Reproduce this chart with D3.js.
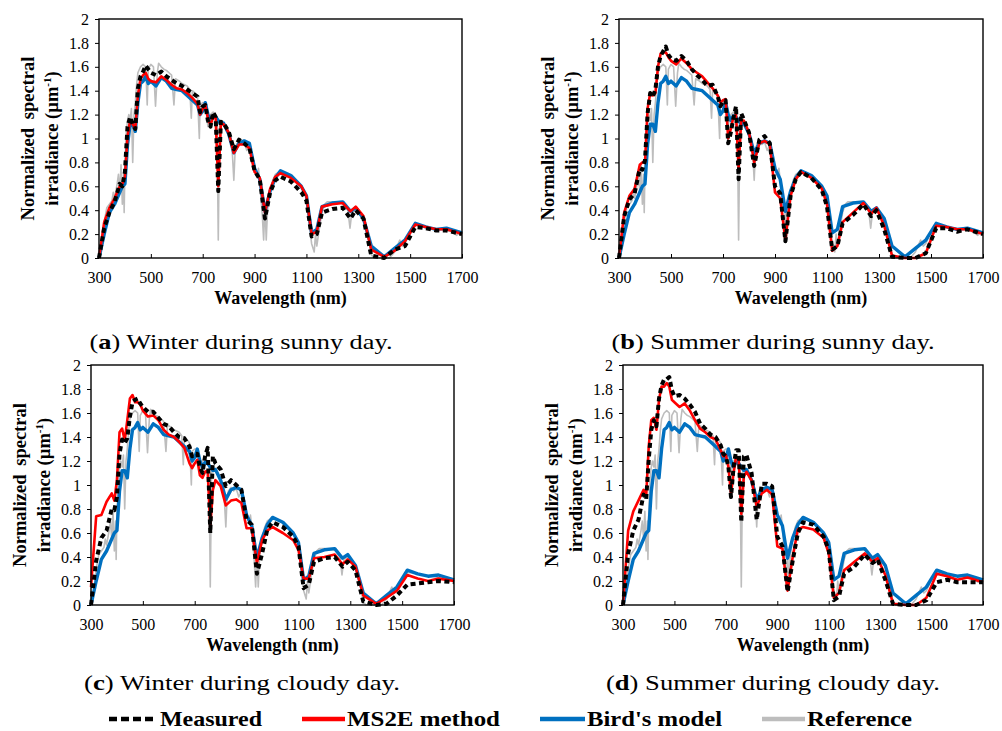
<!DOCTYPE html>
<html><head><meta charset="utf-8">
<script src="https://cdn.jsdelivr.net/npm/d3@7"></script>
<style>
body{margin:0;background:#fff}
svg{display:block}
text{font-family:"Liberation Serif","Times New Roman",serif;fill:#000}
</style>
</head><body>
<svg id="chart" width="1002" height="731"></svg>
<script>
// ---------- DATA ----------
const wavelengths = [300,320,340,360,380,390,400,410,420,430,
 440,450,460,470,480,490,500,520,540,560,
 580,600,620,640,660,680,690,700,710,720,
 730,740,750,760,770,780,800,820,840,860,
 880,900,920,940,960,980,1000,1040,1080,1100,
 1120,1140,1160,1200,1240,1270,1290,1320,1350,1400,
 1440,1480,1520,1560,1600,1640,1700];

const birdModel = [0,0.2,0.38,0.45,0.55,0.6,0.62,0.95,1.12,1.12,
 1.06,1.3,1.46,1.48,1.52,1.46,1.48,1.44,1.51,1.48,
 1.42,1.41,1.4,1.36,1.32,1.28,1.2,1.23,1.3,1.2,
 1.15,1.19,1.18,1.15,1.12,1.13,1.04,0.88,0.96,0.98,
 0.96,0.75,0.66,0.39,0.56,0.67,0.73,0.69,0.6,0.52,
 0.21,0.24,0.43,0.46,0.47,0.39,0.42,0.33,0.1,0.01,
 0.08,0.15,0.29,0.26,0.24,0.25,0.21];

const measuredA = [0,0.25,0.38,0.47,0.62,0.6,0.72,1.1,1.18,1.12,
 1.08,1.42,1.52,1.56,1.61,1.58,1.55,1.53,1.56,1.52,
 1.49,1.46,1.44,1.41,1.38,1.35,1.22,1.27,1.28,1.15,
 1.1,1.22,1.18,0.56,1.14,1.13,1.06,0.91,0.99,0.96,
 0.92,0.73,0.66,0.33,0.55,0.65,0.68,0.64,0.55,0.48,
 0.18,0.2,0.38,0.41,0.42,0.33,0.4,0.33,0.02,0,
 0.07,0.1,0.26,0.25,0.23,0.23,0.2];
const ms2eA = [0,0.3,0.42,0.5,0.6,0.62,0.68,1.02,1.15,1.12,
 1.08,1.36,1.5,1.53,1.55,1.5,1.48,1.47,1.52,1.49,
 1.45,1.42,1.41,1.38,1.34,1.29,1.2,1.25,1.28,1.17,
 1.11,1.18,1.17,0.6,1.12,1.12,1.05,0.88,0.95,0.95,
 0.92,0.72,0.67,0.38,0.58,0.68,0.71,0.67,0.6,0.52,
 0.2,0.22,0.43,0.45,0.46,0.39,0.43,0.35,0.07,0.01,
 0.06,0.14,0.28,0.26,0.24,0.24,0.2];

const measuredB = [0,0.35,0.49,0.54,0.75,0.74,0.82,1.21,1.38,1.35,
 1.41,1.6,1.69,1.73,1.77,1.7,1.67,1.65,1.69,1.65,
 1.58,1.53,1.49,1.44,1.45,1.35,1.27,1.31,1.32,0.96,
 1.05,1.17,1.27,0.66,1.21,1.16,1.05,0.77,0.99,1.02,
 0.96,0.6,0.54,0.14,0.52,0.66,0.72,0.67,0.57,0.43,
 0.07,0.1,0.29,0.36,0.45,0.35,0.4,0.24,0.01,0,
 0,0.04,0.25,0.25,0.22,0.24,0.2];
const ms2eB = [0,0.38,0.52,0.58,0.78,0.8,0.8,1.25,1.38,1.36,
 1.38,1.6,1.71,1.72,1.72,1.68,1.65,1.62,1.67,1.63,
 1.58,1.55,1.52,1.47,1.42,1.36,1.3,1.32,1.33,1.0,
 1.08,1.18,1.2,0.75,1.15,1.15,1.05,0.8,0.96,0.98,
 0.95,0.55,0.5,0.15,0.52,0.66,0.72,0.67,0.58,0.45,
 0.06,0.1,0.3,0.38,0.46,0.37,0.42,0.27,0.02,0,
 0,0.04,0.27,0.26,0.24,0.24,0.2];

const measuredC = [0,0.37,0.56,0.62,0.8,0.79,0.9,1.26,1.38,1.35,
 1.39,1.57,1.69,1.71,1.72,1.68,1.65,1.61,1.61,1.56,
 1.51,1.49,1.44,1.4,1.39,1.32,1.24,1.26,1.26,1.15,
 1.1,1.24,1.31,0.6,1.24,1.18,1.13,0.99,1.04,1.0,
 0.96,0.71,0.67,0.26,0.43,0.63,0.69,0.65,0.57,0.49,
 0.14,0.17,0.36,0.39,0.4,0.32,0.36,0.29,0.03,0,
 0.01,0.08,0.17,0.18,0.19,0.2,0.19];
const ms2eC = [0.15,0.74,0.75,0.86,0.93,0.87,1.04,1.44,1.47,1.37,
 1.54,1.72,1.75,1.69,1.69,1.67,1.62,1.57,1.58,1.54,
 1.46,1.42,1.4,1.36,1.31,1.18,1.14,1.18,1.21,1.08,
 1.06,1.11,1.12,0.65,0.96,1.04,0.99,0.83,0.87,0.88,
 0.85,0.64,0.64,0.35,0.54,0.62,0.65,0.6,0.54,0.46,
 0.22,0.22,0.39,0.4,0.42,0.34,0.38,0.32,0.08,0.01,
 0.06,0.12,0.25,0.22,0.2,0.22,0.2];

const measuredD = [0,0.43,0.62,0.71,0.92,0.88,1.21,1.46,1.54,1.49,
 1.72,1.83,1.88,1.88,1.9,1.79,1.74,1.75,1.72,1.67,
 1.61,1.51,1.47,1.42,1.4,1.33,1.26,1.24,1.15,0.9,
 1.15,1.29,1.29,0.69,1.24,1.25,1.1,0.71,1.01,1.01,
 0.99,0.57,0.49,0.11,0.37,0.6,0.69,0.67,0.57,0.46,
 0.04,0.07,0.26,0.32,0.42,0.35,0.38,0.21,0.01,0,
 0,0.04,0.19,0.21,0.19,0.19,0.19];
const ms2eD = [0,0.62,0.78,0.87,0.96,0.9,1.32,1.54,1.56,1.46,
 1.71,1.82,1.82,1.85,1.82,1.71,1.69,1.65,1.68,1.62,
 1.54,1.47,1.44,1.4,1.38,1.29,1.24,1.25,1.15,0.93,
 1.1,1.24,1.21,0.76,1.07,1.11,1.04,0.82,0.93,0.96,
 0.92,0.49,0.47,0.12,0.4,0.63,0.65,0.63,0.56,0.43,
 0.06,0.1,0.29,0.36,0.43,0.36,0.39,0.25,0.01,0,
 0,0.06,0.26,0.24,0.21,0.23,0.19];

const refWavelengths = [300,310,320,330,340,350,355,360,370,375,
 380,385,390,395,397,400,405,410,415,420,
 425,430,435,440,445,450,460,470,480,486,
 490,500,510,518,525,530,540,550,560,570,
 580,589,595,610,620,640,650,656,660,670,
 680,687,690,700,710,720,725,730,740,750,
 755,760,765,770,780,790,800,810,815,820,
 825,830,840,850,860,870,880,890,900,910,
 915,920,930,935,940,945,950,960,970,980,
 1000,1040,1080,1100,1110,1120,1130,1135,1140,1150,
 1160,1170,1180,1200,1220,1240,1260,1268,1275,1290,
 1300,1320,1340,1350,1360,1420,1440,1460,1470,1480,
 1500,1520,1540,1580,1620,1660,1680,1690,1700];
const referenceValues = [0,0.1,0.3,0.42,0.45,0.48,0.55,0.5,0.62,0.7,
 0.55,0.78,0.45,0.7,0.38,0.75,1.05,1.15,1.2,1.15,
 1.25,0.8,1.2,1.3,1.45,1.55,1.6,1.62,1.6,1.28,
 1.58,1.62,1.6,1.27,1.55,1.63,1.6,1.58,1.57,1.55,
 1.53,1.28,1.5,1.48,1.46,1.44,1.41,1.17,1.4,1.38,
 1.35,1.0,1.28,1.3,1.3,1.1,1.18,1.2,1.22,1.2,
 1.15,0.15,1.1,1.15,1.13,1.1,1.05,1.0,0.85,0.65,
 0.9,0.95,0.98,0.95,0.97,0.9,0.95,0.82,0.75,0.68,
 0.75,0.65,0.35,0.15,0.45,0.15,0.4,0.55,0.65,0.7,
 0.73,0.68,0.6,0.5,0.3,0.12,0.05,0.2,0.1,0.25,
 0.38,0.45,0.47,0.47,0.46,0.46,0.4,0.25,0.38,0.4,
 0.38,0.32,0.15,0.03,0,0,0.05,0.15,0.1,0.12,
 0.22,0.27,0.27,0.25,0.24,0.22,0.19,0.22,0.2];

const xTicks = [300,500,700,900,1100,1300,1500,1700];
const yTicks = [0,0.2,0.4,0.6,0.8,1,1.2,1.4,1.6,1.8,2];
const panelLetters = ["a","b","c","d"];
const captions = [" Winter during sunny day."," Summer during sunny day."," Winter during cloudy day."," Summer during cloudy day."];
const unitLabels = ["µm","µm","µm","nm"];
const seriesNames = ["Measured","MS2E method","Bird's model","Reference"];

// ---------- LAYOUT ----------
const boxes = [
  {l:99, t:19, r:462, b:258, capX:241, capY:341, capW:303},
  {l:619, t:19, r:983, b:258, capX:773, capY:341, capW:323},
  {l:91, t:365, r:454, b:605, capX:242, capY:682, capW:316},
  {l:623, t:365, r:983, b:605, capX:773, capY:682, capW:334}
];
const measuredSets = [measuredA, measuredB, measuredC, measuredD];
const ms2eSets = [ms2eA, ms2eB, ms2eC, ms2eD];

const COL = {measured:"#000000", ms2e:"#ff0000", bird:"#0070c0", ref:"#bdbdbd"};

const svg = d3.select("#chart");

boxes.forEach((bx, i) => {
  const x = d3.scaleLinear().domain([300,1700]).range([bx.l, bx.r]);
  const y = d3.scaleLinear().domain([0,2]).range([bx.b, bx.t]);
  const g = svg.append("g");

  const line = (xs, ys) => d3.line()
      .x((d,k) => x(xs[k])).y(d => y(d))(ys);

  // series
  g.append("path").attr("d", line(refWavelengths, referenceValues))
    .attr("fill","none").attr("stroke",COL.ref).attr("stroke-width",1.6).attr("stroke-linejoin","round");
  g.append("path").attr("d", line(wavelengths, birdModel))
    .attr("fill","none").attr("stroke",COL.bird).attr("stroke-width",3.4).attr("stroke-linejoin","round");
  g.append("path").attr("d", line(wavelengths, ms2eSets[i]))
    .attr("fill","none").attr("stroke",COL.ms2e).attr("stroke-width",2.6).attr("stroke-linejoin","round");
  g.append("path").attr("d", line(wavelengths, measuredSets[i]))
    .attr("fill","none").attr("stroke",COL.measured).attr("stroke-width",4)
    .attr("stroke-dasharray","5,3.5").attr("stroke-linejoin","round");

  // axes
  const ya = d3.axisLeft(y).tickValues(yTicks).tickSize(4).tickPadding(6)
    .tickFormat(d3.format("~g"));
  const yg = g.append("g").attr("transform",`translate(${bx.l},0)`).call(ya);
  yg.select(".domain").remove();
  yg.selectAll("text").style("font-size","16px").style("font-family",'"Liberation Serif",serif');
  yg.selectAll("line").attr("stroke","#000");

  const xa = d3.axisBottom(x).tickValues(xTicks).tickSizeInner(-4).tickSizeOuter(0).tickPadding(14)
    .tickFormat(d3.format("d"));
  const xg = g.append("g").attr("transform",`translate(0,${bx.b})`).call(xa);
  xg.select(".domain").remove();
  xg.selectAll("text").style("font-size","16px").style("font-family",'"Liberation Serif",serif');
  xg.selectAll("line").attr("stroke","#000");

  // frame
  g.append("rect").attr("x",bx.l).attr("y",bx.t).attr("width",bx.r-bx.l).attr("height",bx.b-bx.t)
    .attr("fill","none").attr("stroke","#000").attr("stroke-width",1.4);

  // axis titles
  const cy = (bx.t + bx.b)/2;
  g.append("text").attr("transform",`translate(${bx.l-71},${cy}) rotate(-90)`)
    .attr("text-anchor","middle").attr("dy","0.35em")
    .style("font-size","18.5px").style("font-weight","bold").style("word-spacing","4px")
    .text("Normalized spectral");
  const t2 = g.append("text").attr("transform",`translate(${bx.l-47},${cy}) rotate(-90)`)
    .attr("text-anchor","middle").attr("dy","0.35em")
    .style("font-size","18.5px").style("font-weight","bold");
  t2.append("tspan").text("irradiance (" + unitLabels[i]);
  t2.append("tspan").attr("dy","-7").style("font-size","11px").text("-1");
  t2.append("tspan").attr("dy","7").text(")");

  g.append("text").attr("x",(bx.l+bx.r)/2).attr("y",bx.b+40)
    .attr("text-anchor","middle").attr("dy","0.35em")
    .style("font-size","18px").style("font-weight","bold")
    .text("Wavelength (nm)");

  // caption
  const cap = g.append("text").attr("x",bx.capX).attr("y",bx.capY).attr("dy","0.35em")
    .attr("text-anchor","middle").style("font-size","22px")
    .attr("textLength",bx.capW).attr("lengthAdjust","spacingAndGlyphs");
  cap.append("tspan").text("(");
  cap.append("tspan").style("font-weight","bold").text(panelLetters[i]);
  cap.append("tspan").text(")" + captions[i]);
});

// ---------- LEGEND ----------
const legendItems = [
  {name:seriesNames[0], color:COL.measured, dash:"8,4", x1:109, x2:157, tx:160, tw:102},
  {name:seriesNames[1], color:COL.ms2e, dash:null, x1:302, x2:345, tx:347, tw:153},
  {name:seriesNames[2], color:COL.bird, dash:null, x1:540, x2:585, tx:587, tw:135},
  {name:seriesNames[3], color:COL.ref, dash:null, x1:762, x2:805, tx:807, tw:105}
];
const lg = svg.append("g");
const ly = 719;
legendItems.forEach(it => {
  const ln = lg.append("line").attr("x1",it.x1).attr("x2",it.x2).attr("y1",ly).attr("y2",ly)
    .attr("stroke",it.color).attr("stroke-width",4.5);
  if (it.dash) ln.attr("stroke-dasharray",it.dash);
  lg.append("text").attr("x",it.tx).attr("y",ly).attr("dy","0.35em")
    .style("font-size","21px").style("font-weight","bold")
    .attr("textLength",it.tw).attr("lengthAdjust","spacingAndGlyphs")
    .text(it.name);
});
</script>
</body></html>
